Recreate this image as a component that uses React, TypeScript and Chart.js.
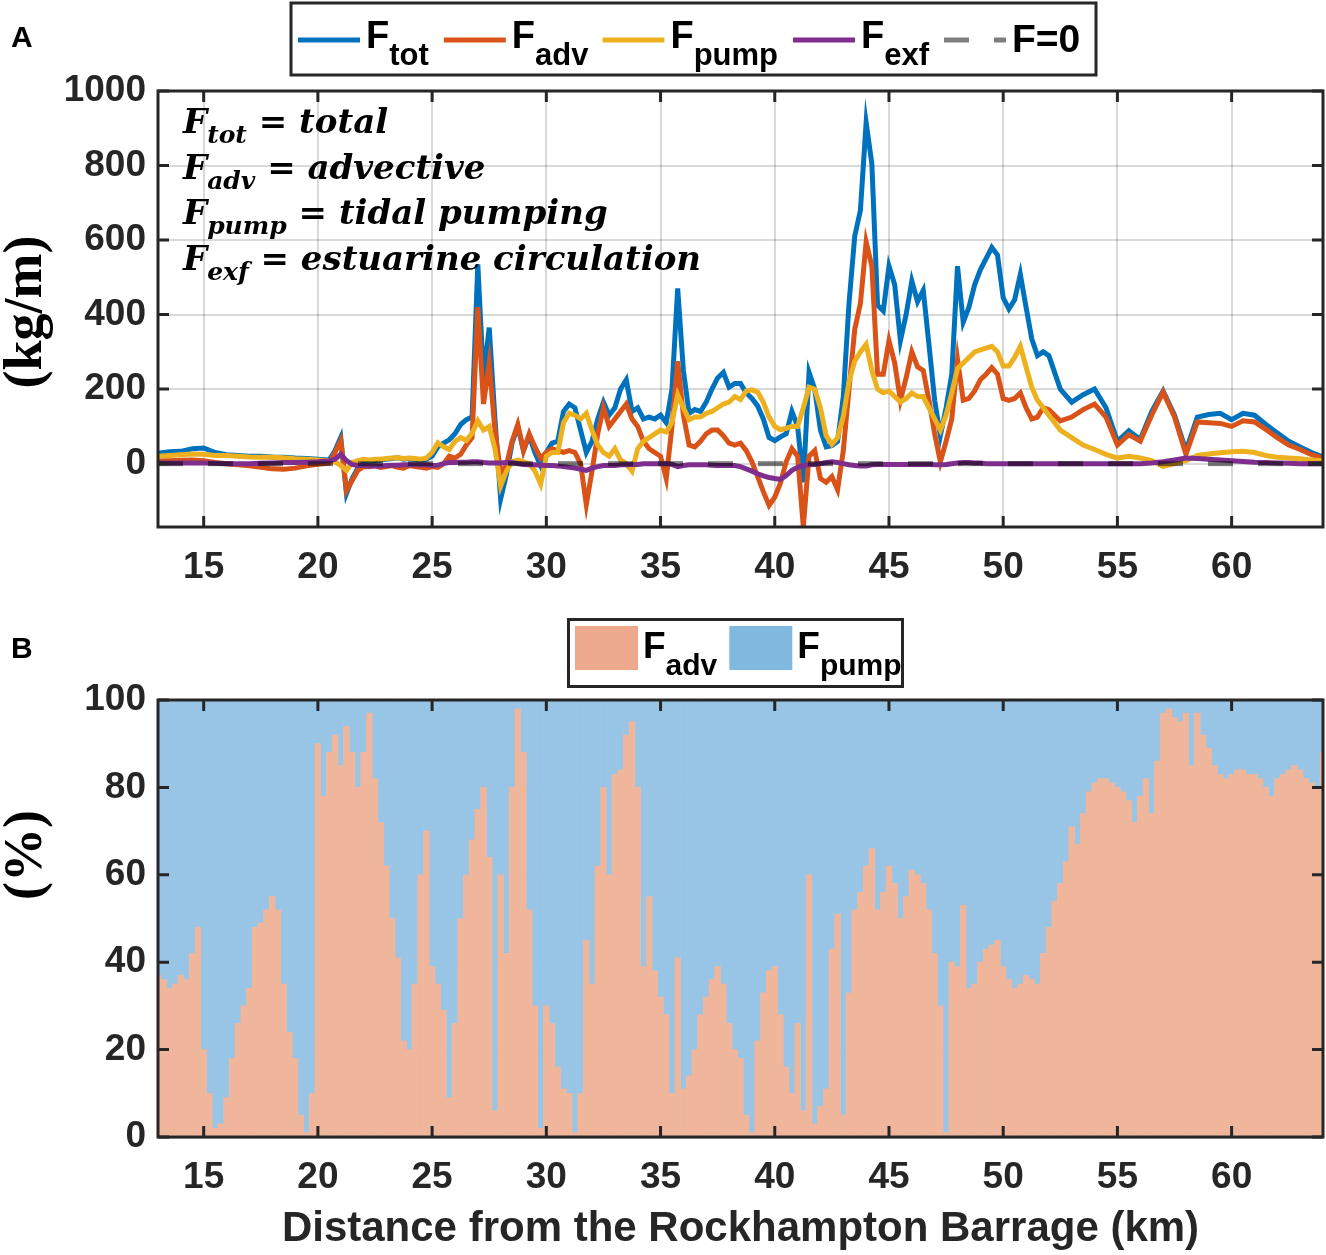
import React, { useEffect, useRef } from "react";
import { Chart, registerables } from "chart.js";

Chart.register(...registerables);

// ---------- Panel A data (kg/m) ----------
const distance = [
  13, 13.5, 14, 14.5, 15, 15.5, 16, 16.5, 17, 17.5, 18, 18.5, 19, 19.5, 20, 20.5,
  20.75, 21, 21.25, 21.5, 21.75, 22, 22.25, 22.5, 22.75, 23, 23.25, 23.5, 23.75, 24, 24.25, 24.5, 24.75,
  25, 25.25, 25.5, 25.75, 26, 26.25, 26.5, 26.75, 27, 27.25, 27.5, 27.75, 28, 28.25, 28.5, 28.75,
  29, 29.25, 29.5, 29.75, 30, 30.25, 30.5, 30.75, 31, 31.25, 31.5, 31.75, 32, 32.25, 32.5, 32.75,
  33, 33.25, 33.5, 33.75, 34, 34.25, 34.5, 34.75, 35, 35.25, 35.5, 35.75, 36, 36.25, 36.5, 36.75,
  37, 37.25, 37.5, 37.75, 38, 38.25, 38.5, 38.75, 39, 39.25, 39.5, 39.75, 40, 40.25, 40.5, 40.75,
  41, 41.25, 41.5, 41.75, 42, 42.25, 42.5, 42.75, 43, 43.25, 43.5, 43.75, 44, 44.25, 44.5, 44.75,
  45, 45.25, 45.5, 45.75, 46, 46.25, 46.5, 46.75, 47, 47.25, 47.5, 47.75, 48, 48.25, 48.5, 48.75,
  49, 49.25, 49.5, 49.75, 50, 50.25, 50.5, 50.75, 51, 51.25, 51.5, 51.75, 52,
  52.5, 53, 53.5, 54, 54.5, 55, 55.5, 56, 56.5, 57, 57.5, 58, 58.5, 59, 59.5, 60, 60.5, 61, 61.5,
  62, 62.5, 63, 63.5, 64,
];

const fluxTotal = [
  28, 32, 33, 40, 42, 30, 24, 22, 20, 20, 18, 17, 15, 14, 12, 10,
  35, 70, -80, -40, -12, 2, 5, 8, 10, 12,
  14, 16, 12, 14, 12, 10, 12, 20, 45, 55,
  64, 80, 105, 118, 125, 535, 230, 365, 120, -95,
  -30, 55, 100, 35, 75, 30, -5, 30, 55, 60,
  140, 160, 150, 90, 30, 60, 120, 165, 130, 150,
  200, 225, 140, 150, 120, 125, 120, 130, 110, 200,
  470, 250, 135, 145, 140, 165, 200, 230, 245, 205,
  215, 215, 190, 175, 155, 120, 70, 62, 72, 80,
  140, 100, -50, 245, 200, 90, 45, 48, 60, 180,
  430, 610, 680, 915, 805, 425, 410, 530, 480, 330,
  400, 490, 435, 465, 320, 170, 75, 150, 240, 530,
  380, 420, 480, 520, 550, 580, 560, 445, 415, 440,
  508, 420, 335, 290, 300, 290,
  200, 165, 185, 200, 150, 60, 88, 65, 140, 195, 130, 35, 125, 132, 135, 118, 135, 130, 105,
  82, 60, 45, 30, 18,
];

const fluxAdv = [
  8, 8, 9, 10, 8, 3, 0, -3, -6, -10, -14, -15, -12, -6, -2, 2,
  30, 62, -72, -45, -18, -8, -8, -5, -10, -8,
  -5, -10, -12, -5, -8, -10, -12, -8, -10, 0,
  20, 15, 25, 50, 70, 420, 160, 270, 90, -25,
  -5, 60, 105, 35, 80, 45, 15, 30, 40, 35,
  30, 35, 30, 0, -110, -20, 80, 150, 100, 120,
  140, 160, 120, 100, 60, 40, 30, 20, -40, 100,
  275, 130, 50, 45, 60, 80, 90, 90, 75, 55,
  50, 55, 35, 5, -35, -75, -112, -90, -52, 5,
  40, 20, -170, 20, 35, -40, -50, -35, -70, 35,
  200, 360, 430, 595, 530, 240, 240, 330, 270, 170,
  230, 300, 260, 250, 170, 80, 5, 60, 120, 280,
  170, 175, 195, 225, 240, 258, 240, 175, 170, 175,
  190, 150, 120, 125, 150, 145,
  115, 125, 145, 160, 125, 50, 78, 60, 130, 192, 125, 25, 112, 110, 108, 100, 115, 112, 92,
  70, 50, 38, 24, 15,
];

const fluxPump = [
  20, 22, 24, 26, 25, 22, 22, 20, 18, 17, 17, 16, 13, 12, 10, 8,
  5, -5, -18, 3, 8, 12, 10, 12, 12, 14,
  15, 16, 14, 15, 14, 12, 15, 30, 56, 45,
  38, 60, 70, 62, 82, 115, 90, 100, 40, -60,
  -20, 5, 10, 5, 0, -20, -55, 20, 30, 30,
  110, 135, 130, 120, 135, 90, 50, 30, 20, 40,
  10, 0, -20, 40, 60, 70, 80, 90, 85, 110,
  185, 150, 118, 125, 125, 135, 140, 150, 160, 165,
  180, 172, 195, 198, 192, 165, 125, 100, 91, 95,
  100, 100, 150, 205, 200, 150, 75, 52, 70, 127,
  220, 275, 300, 320, 250, 200, 190, 195, 180, 165,
  175, 190, 180, 180, 150, 120, 90, 130, 190, 255,
  270, 285, 300, 305, 310, 315, 300, 262, 262, 285,
  315, 260, 205, 170, 150, 130,
  90, 70, 50, 38, 25, 15, 20, 15, 8, -7, 0, 8, 22, 26, 29, 32, 33, 30, 22,
  17, 15, 13, 10, 8,
];

const fluxExf = [
  2, 2, 2, 2, 2, 1, 0, 0, 0, 1, 2, 3, 3, 4, 5, 8,
  12, 25, 8, -2, -5, -5, -6, -6, -6, -5,
  -4, -4, -3, -3, -3, -3, -3, -5, -4, 0,
  3, 3, 4, 4, 5, 5, 3, 2, 2, 2,
  3, 3, 0, -2, -3, -3, -4, -5, -5, -6,
  -8, -10, -12, -15, -18, -12, -8, -5, -5, -5,
  -3, -3, -2, -2, 0, 0, 0, 0, 0, -2,
  -8, -5, -3, -3, -3, -3, -4, -5, -5, -5,
  -5, -8, -14, -20, -27, -33, -37, -40, -42, -32,
  -18, -10, -5, -3, -2, 0, 3, 5, 3, 0,
  -3, -5, -6, -6, -3, -2, -2, -2, -2, -2,
  -2, -2, -2, -2, -2, -3, -3, -2, 0, 2,
  3, 3, 2, 2, 0, 0, 0, 0, 0, 0,
  0, 0, 0, 0, 0, 0,
  0, 0, 0, 0, 0, 0, 0, 0, 2, 5, 10, 15, 14, 12, 10, 8, 6, 4, 3,
  2, 1, 0, 0, 0,
];

const zeroLineX = [13, 64];
const zeroLineY = [0, 0];

const xTickValues = [15, 20, 25, 30, 35, 40, 45, 50, 55, 60];
const yTickValuesA = [0, 200, 400, 600, 800, 1000];

// ---------- Panel B data (% share) ----------
const shareDistance = [
  13, 13.25, 13.5, 13.75, 14, 14.25, 14.5, 14.75, 15, 15.25, 15.5, 15.75, 16, 16.25, 16.5, 16.75,
  17, 17.25, 17.5, 17.75, 18, 18.25, 18.5, 18.75, 19, 19.25, 19.5, 19.75, 20, 20.25, 20.5, 20.75,
  21, 21.25, 21.5, 21.75, 22, 22.25, 22.5, 22.75, 23, 23.25, 23.5, 23.75, 24, 24.25, 24.5, 24.75,
  25, 25.25, 25.5, 25.75, 26, 26.25, 26.5, 26.75, 27, 27.25, 27.5, 27.75, 28, 28.25, 28.5, 28.75,
  29, 29.25, 29.5, 29.75, 30, 30.25, 30.5, 30.75, 31, 31.25, 31.5, 31.75, 32, 32.25, 32.5, 32.75,
  33, 33.25, 33.5, 33.75, 34, 34.25, 34.5, 34.75, 35, 35.25, 35.5, 35.75, 36, 36.25, 36.5, 36.75,
  37, 37.25, 37.5, 37.75, 38, 38.25, 38.5, 38.75, 39, 39.25, 39.5, 39.75, 40, 40.25, 40.5, 40.75,
  41, 41.25, 41.5, 41.75, 42, 42.25, 42.5, 42.75, 43, 43.25, 43.5, 43.75, 44, 44.25, 44.5, 44.75,
  45, 45.25, 45.5, 45.75, 46, 46.25, 46.5, 46.75, 47, 47.25, 47.5, 47.75, 48, 48.25, 48.5, 48.75,
  49, 49.25, 49.5, 49.75, 50, 50.25, 50.5, 50.75, 51, 51.25, 51.5, 51.75, 52, 52.25, 52.5, 52.75,
  53, 53.25, 53.5, 53.75, 54, 54.25, 54.5, 54.75, 55, 55.25, 55.5, 55.75, 56, 56.25, 56.5, 56.75,
  57, 57.25, 57.5, 57.75, 58, 58.25, 58.5, 58.75, 59, 59.25, 59.5, 59.75, 60, 60.25, 60.5, 60.75,
  61, 61.25, 61.5, 61.75, 62, 62.25, 62.5, 62.75, 63, 63.25, 63.5, 63.75, 64,
];

const shareAdv = [
  37, 36, 34, 35, 37, 36, 42, 48, 20, 10, 2, 3, 9, 18, 26, 30,
  34, 48, 49, 52, 55, 52, 35, 24, 18, 5, 1, 10, 90, 78, 88, 92,
  85, 94, 88, 80, 88, 97, 82, 72, 62, 50, 41, 22, 20, 35, 60, 70,
  39, 35, 29, 9, 26, 50, 60, 68, 75, 80, 64, 6, 60, 42, 80, 98,
  88, 52, 30, 2, 30, 26, 16, 11, 10, 1, 10, 45, 35, 62, 80, 60,
  83, 84, 92, 95, 80, 39, 55, 38, 32, 28, 10, 41, 11, 14, 20, 28,
  32, 36, 39, 35, 26, 20, 18, 5, 1, 22, 33, 38, 39, 28, 16, 10,
  26, 6, 60, 3, 7, 11, 43, 51, 5, 33, 52, 56, 62, 66, 52, 56,
  62, 58, 50, 55, 61, 60, 58, 52, 42, 30, 1, 40, 39, 53, 34, 35,
  40, 43, 44, 45, 39, 36, 34, 35, 37, 36, 35, 42, 48, 54, 58, 63,
  71, 67, 74, 79, 81, 82, 82, 81, 80, 79, 77, 72, 78, 82, 74, 86,
  97, 98, 96, 95, 97, 85, 97, 92, 89, 85, 83, 82, 83, 84, 84, 83,
  83, 82, 80, 78, 82, 83, 84, 85, 84, 82, 81, 80, 88,
];
// F_pump share is the remainder of the 100 % stack
const sharePump = shareAdv.map((v) => 100 - v);

const yTickValuesB = [0, 20, 40, 60, 80, 100];

// ---------- styling ----------
const SANS = '"Liberation Sans", Arial, sans-serif';
const SERIF = '"Liberation Serif", "Times New Roman", serif';
const MATH = '"DejaVu Serif", serif';
const INK = "#262626";
const C_TOT = "#0072BD";
const C_ADV = "#D95319";
const C_PUMP = "#EDB120";
const C_EXF = "#7E2F8E";
const BAR_ADV = "#F0B69C";
const BAR_PUMP = "#98C5E5";
const PATCH_ADV = "#ECA98B";
const PATCH_PUMP = "#80B8DF";

const framePlugin = {
  id: "frame",
  afterDraw(chart: any) {
    const { ctx, chartArea: a, scales } = chart;
    const tl = 11;
    ctx.save();
    ctx.strokeStyle = INK;
    ctx.lineWidth = 3;
    ctx.beginPath();
    scales.x.ticks.forEach((t: any) => {
      const px = scales.x.getPixelForValue(t.value);
      ctx.moveTo(px, a.bottom);
      ctx.lineTo(px, a.bottom - tl);
      ctx.moveTo(px, a.top);
      ctx.lineTo(px, a.top + tl);
    });
    scales.y.ticks.forEach((t: any) => {
      const py = scales.y.getPixelForValue(t.value);
      ctx.moveTo(a.left, py);
      ctx.lineTo(a.left + tl, py);
      ctx.moveTo(a.right, py);
      ctx.lineTo(a.right - tl, py);
    });
    ctx.stroke();
    ctx.strokeRect(a.left, a.top, a.right - a.left, a.bottom - a.top);
    ctx.restore();
  },
};

function drawRotated(ctx: any, text: string, cx: number, cy: number, font: string) {
  ctx.save();
  ctx.translate(cx, cy);
  ctx.rotate(-Math.PI / 2);
  ctx.font = font;
  ctx.fillStyle = "#000";
  ctx.textAlign = "center";
  ctx.textBaseline = "middle";
  ctx.fillText(text, 0, 0);
  ctx.restore();
}

const topDecorPlugin = {
  id: "topDecor",
  afterDatasetsDraw(chart: any) {
    const ctx = chart.ctx;
    ctx.save();
    ctx.fillStyle = "#000";
    ctx.textAlign = "left";
    ctx.textBaseline = "alphabetic";
    const lines = [
      ["tot", " = total"],
      ["adv", " = advective"],
      ["pump", " = tidal pumping"],
      ["exf", " = estuarine circulation"],
    ];
    const mainFont = `italic bold 34px ${MATH}`;
    const subFont = `italic bold 25px ${MATH}`;
    lines.forEach((ln, i) => {
      const base = 133 + i * 45.7;
      let x = 183;
      ctx.font = mainFont;
      ctx.fillText("F", x, base);
      x += ctx.measureText("F").width;
      ctx.font = subFont;
      ctx.fillText(ln[0], x, base + 10);
      x += ctx.measureText(ln[0]).width;
      ctx.font = mainFont;
      ctx.fillText(ln[1], x, base);
    });
    ctx.restore();
  },
  afterDraw(chart: any) {
    const ctx = chart.ctx;
    const ds = chart.data.datasets;
    ctx.save();
    // panel label
    ctx.fillStyle = "#000";
    ctx.font = `bold 30px ${SANS}`;
    ctx.textAlign = "left";
    ctx.textBaseline = "alphabetic";
    ctx.fillText("A", 11, 47);
    // y title
    drawRotated(ctx, "(kg/m)", 27, 312, `bold 54px ${SERIF}`);
    // legend box
    ctx.fillStyle = "#fff";
    ctx.fillRect(291, 3, 805, 72);
    ctx.strokeStyle = INK;
    ctx.lineWidth = 3;
    ctx.strokeRect(291, 3, 805, 72);
    const entries = [
      { d: ds[0], sub: "tot", gap: 15 },
      { d: ds[1], sub: "adv", gap: 14 },
      { d: ds[2], sub: "pump", gap: 15 },
      { d: ds[3], sub: "exf", gap: 15 },
      { d: ds[4], sub: "", gap: 0 },
    ];
    let x = 298;
    entries.forEach((e) => {
      ctx.beginPath();
      ctx.strokeStyle = e.d.borderColor;
      ctx.lineWidth = 5;
      ctx.setLineDash(e.d.borderDash || []);
      ctx.moveTo(x, 40);
      ctx.lineTo(x + 62, 40);
      ctx.stroke();
      ctx.setLineDash([]);
      x += 68;
      ctx.fillStyle = "#000";
      ctx.font = `bold 38px ${SANS}`;
      if (e.sub) {
        ctx.fillText("F", x, 48);
        x += ctx.measureText("F").width;
        ctx.font = `bold 31px ${SANS}`;
        ctx.fillText(e.sub, x, 65);
        x += ctx.measureText(e.sub).width + e.gap;
      } else {
        ctx.font = `bold 39px ${SANS}`;
        ctx.fillText("F=0", x, 52);
      }
    });
    ctx.restore();
  },
};

const bottomDecorPlugin = {
  id: "bottomDecor",
  afterDraw(chart: any) {
    const ctx = chart.ctx;
    const ds = chart.data.datasets;
    ctx.save();
    ctx.fillStyle = "#000";
    ctx.font = `bold 30px ${SANS}`;
    ctx.textAlign = "left";
    ctx.textBaseline = "alphabetic";
    ctx.fillText("B", 11, 48);
    drawRotated(ctx, "(%)", 27, 245, `bold 54px ${SERIF}`);
    // legend
    ctx.fillStyle = "#fff";
    ctx.fillRect(568.5, 9.5, 334, 67);
    ctx.strokeStyle = INK;
    ctx.lineWidth = 3;
    ctx.strokeRect(568.5, 9.5, 334, 67);
    const entries = [
      { color: PATCH_ADV, label: ds[0].label, sub: "adv" },
      { color: PATCH_PUMP, label: ds[1].label, sub: "pump" },
    ];
    let x = 575;
    entries.forEach((e) => {
      ctx.fillStyle = e.color;
      ctx.fillRect(x, 16, 63, 44);
      x += 68;
      ctx.fillStyle = "#000";
      ctx.font = `bold 37px ${SANS}`;
      ctx.fillText("F", x, 48);
      x += ctx.measureText("F").width;
      ctx.font = `bold 30px ${SANS}`;
      ctx.fillText(e.sub, x, 65);
      x += ctx.measureText(e.sub).width + 12;
    });
    ctx.restore();
  },
};

const tickFont = { family: SANS, size: 37, weight: "bold" as const };

function topConfig(): any {
  const pts = (ys: number[]) => distance.map((d, i) => ({ x: d, y: ys[i] }));
  const line = (label: string, ys: number[], color: string, order: number) => ({
    label,
    data: pts(ys),
    borderColor: color,
    backgroundColor: color,
    borderWidth: 5,
    pointRadius: 0,
    tension: 0,
    fill: false,
    order,
  });
  return {
    type: "line",
    data: {
      datasets: [
        line("F_tot", fluxTotal, C_TOT, 5),
        line("F_adv", fluxAdv, C_ADV, 4),
        line("F_pump", fluxPump, C_PUMP, 3),
        line("F_exf", fluxExf, C_EXF, 2),
        {
          label: "F=0",
          data: zeroLineX.map((d, i) => ({ x: d, y: zeroLineY[i] })),
          borderColor: "rgba(0,0,0,0.5)",
          borderDash: [25, 25],
          borderWidth: 5,
          pointRadius: 0,
          fill: false,
          order: 1,
        },
      ],
    },
    options: {
      animation: false,
      responsive: false,
      maintainAspectRatio: false,
      layout: { padding: { top: 91, right: 3, left: 0, bottom: 0 } },
      plugins: { legend: { display: false }, tooltip: { enabled: false } },
      scales: {
        x: {
          type: "linear",
          min: 13,
          max: 64,
          afterBuildTicks: (s: any) => {
            s.ticks = xTickValues.map((v) => ({ value: v }));
          },
          afterFit: (s: any) => {
            s.height = 83;
          },
          grid: { color: "rgba(0,0,0,0.15)", lineWidth: 2, drawTicks: false },
          border: { display: false },
          ticks: {
            font: tickFont,
            color: INK,
            padding: 19,
            maxRotation: 0,
            autoSkip: false,
            callback: (v: any) => String(v),
          },
        },
        y: {
          type: "linear",
          min: -170,
          max: 1000,
          afterBuildTicks: (s: any) => {
            s.ticks = yTickValuesA.map((v) => ({ value: v }));
          },
          afterFit: (s: any) => {
            s.width = 158;
          },
          grid: { color: "rgba(0,0,0,0.15)", lineWidth: 2, drawTicks: false },
          border: { display: false },
          ticks: {
            font: tickFont,
            color: INK,
            padding: 12,
            autoSkip: false,
            callback: (v: any) => String(v),
          },
        },
      },
    },
    plugins: [framePlugin, topDecorPlugin],
  };
}

function bottomConfig(): any {
  return {
    type: "bar",
    data: {
      datasets: [
        {
          label: "F_adv",
          data: shareDistance.map((d, i) => ({ x: d, y: shareAdv[i] })),
          backgroundColor: BAR_ADV,
          borderWidth: 0,
          barPercentage: 1,
          categoryPercentage: 1,
        },
        {
          label: "F_pump",
          data: shareDistance.map((d, i) => ({ x: d, y: sharePump[i] })),
          backgroundColor: BAR_PUMP,
          borderWidth: 0,
          barPercentage: 1,
          categoryPercentage: 1,
        },
      ],
    },
    options: {
      animation: false,
      responsive: false,
      maintainAspectRatio: false,
      layout: { padding: { top: 90, right: 3, left: 0, bottom: 0 } },
      plugins: { legend: { display: false }, tooltip: { enabled: false } },
      scales: {
        x: {
          type: "linear",
          min: 13,
          max: 64,
          offset: false,
          stacked: true,
          z: 1,
          afterBuildTicks: (s: any) => {
            s.ticks = xTickValues.map((v) => ({ value: v }));
          },
          afterFit: (s: any) => {
            s.height = 118;
          },
          grid: { color: "rgba(0,0,0,0.2)", lineWidth: 3, drawTicks: false, offset: false },
          border: { display: false },
          ticks: {
            font: tickFont,
            color: INK,
            padding: 19,
            maxRotation: 0,
            autoSkip: false,
            callback: (v: any) => String(v),
          },
          title: {
            display: true,
            text: "Distance from the Rockhampton Barrage (km)",
            color: INK,
            font: { family: SANS, size: 42, weight: "bold" },
            padding: { top: 0, bottom: 0 },
          },
        },
        y: {
          type: "linear",
          min: 0,
          max: 100,
          stacked: true,
          z: 1,
          afterBuildTicks: (s: any) => {
            s.ticks = yTickValuesB.map((v) => ({ value: v }));
          },
          afterFit: (s: any) => {
            s.width = 158;
          },
          grid: { color: "rgba(0,0,0,0.2)", lineWidth: 3, drawTicks: false },
          border: { display: false },
          ticks: {
            font: tickFont,
            color: INK,
            padding: 12,
            autoSkip: false,
            callback: (v: any) => String(v),
          },
        },
      },
    },
    plugins: [framePlugin, bottomDecorPlugin],
  };
}

export default function App() {
  const topRef = useRef<HTMLCanvasElement>(null);
  const botRef = useRef<HTMLCanvasElement>(null);

  useEffect(() => {
    const c1 = new Chart(topRef.current as HTMLCanvasElement, topConfig());
    const c2 = new Chart(botRef.current as HTMLCanvasElement, bottomConfig());
    return () => {
      c1.destroy();
      c2.destroy();
    };
  }, []);

  return (
    <div style={{ position: "absolute", left: 0, top: 0, width: 1326, height: 1255, background: "#fff" }}>
      <canvas
        ref={topRef}
        width={1326}
        height={610}
        style={{ position: "absolute", left: 0, top: 0, width: 1326, height: 610 }}
      />
      <canvas
        ref={botRef}
        width={1326}
        height={645}
        style={{ position: "absolute", left: 0, top: 610, width: 1326, height: 645 }}
      />
    </div>
  );
}
